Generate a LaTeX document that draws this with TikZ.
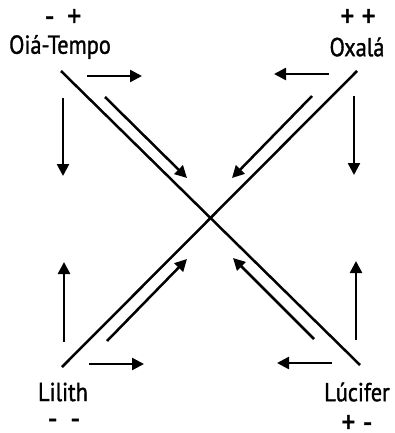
\documentclass[tikz,border=0pt]{standalone}
\usepackage{fontspec}
\setmainfont{PT Sans}[FakeStretch=0.86,FakeBold=1.2]
\usetikzlibrary{arrows.meta}
\begin{document}
\begin{tikzpicture}[x=1pt,y=-1pt,
  lbl/.style={inner sep=0pt,font=\fontsize{26}{28}\selectfont},
  sgn/.style={inner sep=0pt,font=\fontsize{32}{34}\selectfont},
  ln/.style={line width=2.5pt},
  arr/.style={line width=2.5pt,-{Triangle[length=12pt,width=12pt]}}]
\useasboundingbox (0,0) rectangle (395,433);
% labels
\node[sgn] (s1) at (63,18) {-\, +};
\node[lbl] (oia) at (60,47) {Oiá-Tempo};
\node[sgn] (s2) at (358,18) {+ +};
\node[lbl] (oxa) at (357,47) {Oxalá};
\node[lbl] (lil) at (63,392) {Lilith};
\node[sgn] (s3) at (64,424) {-\, -};
\node[lbl] (luc) at (357,392) {Lúcifer};
\node[sgn] (s4) at (357,424) {+ -};
% diagonals
\coordinate (d1a) at (61,71); \coordinate (d1b) at (360,365);
\coordinate (d2a) at (357,71); \coordinate (d2b) at (62,367);
\draw[ln] (d1a) -- (d1b);
\draw[ln] (d2a) -- (d2b);
% horizontal arrows
\coordinate (h1a) at (87,76); \coordinate (h1b) at (142,76);
\coordinate (h2a) at (329,74); \coordinate (h2b) at (274,74);
\coordinate (h3a) at (89,364); \coordinate (h3b) at (144,364);
\coordinate (h4a) at (332,363); \coordinate (h4b) at (277,363);
\draw[arr] (h1a) -- (h1b);
\draw[arr] (h2a) -- (h2b);
\draw[arr] (h3a) -- (h3b);
\draw[arr] (h4a) -- (h4b);
% vertical arrows
\coordinate (v1a) at (63,98); \coordinate (v1b) at (63,176);
\coordinate (v2a) at (354,96); \coordinate (v2b) at (354,175);
\coordinate (v3a) at (64,342); \coordinate (v3b) at (64,262);
\coordinate (v4a) at (356,340); \coordinate (v4b) at (356,261);
\draw[arr] (v1a) -- (v1b);
\draw[arr] (v2a) -- (v2b);
\draw[arr] (v3a) -- (v3b);
\draw[arr] (v4a) -- (v4b);
% diagonal arrows
\coordinate (g1a) at (105,97); \coordinate (g1b) at (187,178);
\coordinate (g2a) at (312,96); \coordinate (g2b) at (232,178);
\coordinate (g3a) at (107,341); \coordinate (g3b) at (187,259);
\coordinate (g4a) at (314,339); \coordinate (g4b) at (233,258);
\draw[arr] (g1a) -- (g1b);
\draw[arr] (g2a) -- (g2b);
\draw[arr] (g3a) -- (g3b);
\draw[arr] (g4a) -- (g4b);
\end{tikzpicture}
\end{document}
